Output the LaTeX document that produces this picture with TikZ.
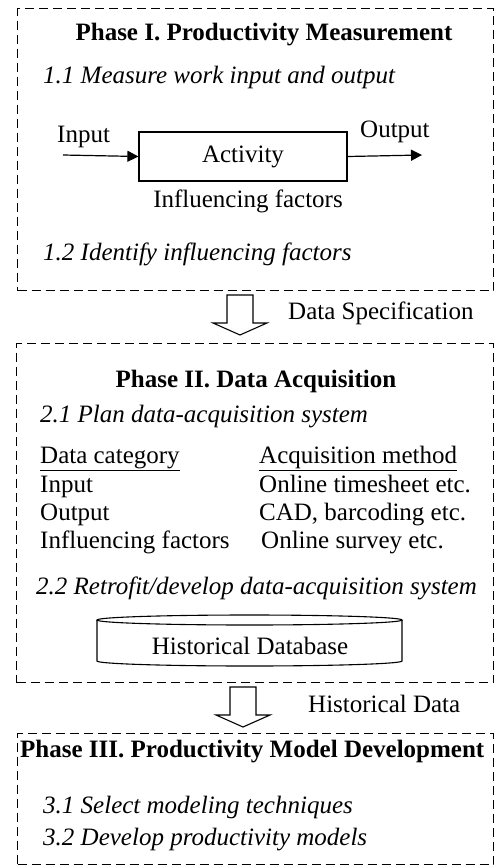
\documentclass[tikz,border=0pt]{standalone}
\usepackage{fontspec}
\setmainfont{Liberation Serif}
\usetikzlibrary{arrows.meta,positioning,calc}

\tikzset{
  phasebox/.style={draw, dash pattern=on 9pt off 5pt, line width=1.1pt, inner sep=0pt},
  txt/.style={font=\fontsize{25}{29}\selectfont, inner sep=0pt, anchor=base west},
  ttl/.style={font=\fontsize{25}{29}\selectfont\bfseries, inner sep=0pt, anchor=base},
  itm/.style={font=\fontsize{25}{29}\selectfont\itshape, inner sep=0pt, anchor=base west},
  flow/.style={line width=1.2pt, -{Triangle[length=11pt,width=11pt]}},
  hollow/.style={draw, line width=1.1pt, fill=white}
}

\begin{document}
\begin{tikzpicture}[x=1pt, y=-1pt]
\useasboundingbox (0,0) rectangle (494,865);

% phase I
\node[phasebox, minimum width=476pt, minimum height=282pt, anchor=north west] (ph1) at (17,8) {};
\node[ttl] (ttl1) at (264,40) {Phase I. Productivity Measurement};
\node[itm] (s11) at (43,83) {1.1 Measure work input and output};
\node[draw, line width=1.2pt, minimum width=208pt, minimum height=49pt, font=\fontsize{25}{29}\selectfont] (act) at (243,156.5) {Activity};
\node[txt] (inlbl) at (57,142) {Input};
\node[txt] (outlbl) at (360,137) {Output};
\coordinate (instart) at (63,155);
\coordinate (outend) at (422,155);
\draw[flow] (instart) -- (act.west);
\draw[flow] (act.east) -- (outend);
\node[txt, anchor=base] (inf) at (248,207) {Influencing factors};
\node[itm] (s12) at (43,260) {1.2 Identify influencing factors};

% phase II
\node[phasebox, minimum width=477pt, minimum height=339pt, anchor=north west] (ph2) at (16,343) {};
\node[ttl] (ttl2) at (256,387) {Phase II. Data Acquisition};
\node[itm] (s21) at (40,422) {2.1 Plan data-acquisition system};
\node[txt] (cat) at (40,463) {\underline{Data category}};
\node[txt] (meth) at (259,463) {\underline{Acquisition method}};
\node[txt] (cin) at (40,492) {Input};
\node[txt] (min) at (259,492) {Online timesheet etc.};
\node[txt] (cout) at (40,520) {Output};
\node[txt] (mout) at (259,520) {CAD, barcoding etc.};
\node[txt] (cinf) at (40,548) {Influencing factors};
\node[txt] (minf) at (261,548) {Online survey etc.};
\node[itm] (s22) at (36,594) {2.2 Retrofit/develop data-acquisition system};
% database
\coordinate (dbtop) at (249.5,620);
\draw[line width=1.1pt] (dbtop) ellipse [x radius=152.5, y radius=5];
\draw[line width=1.1pt] ($(dbtop)+(-152.5,0)$) -- ++(0,41)
  arc[start angle=180, end angle=0, x radius=152.5, y radius=5] -- ++(0,-41);
\node[txt, anchor=base] (db) at (250,654) {Historical Database};

% phase III
\node[phasebox, minimum width=476pt, minimum height=131pt, anchor=north west] (ph3) at (17,733) {};
\node[ttl, anchor=base west] (ttl3) at (20,757) {Phase III. Productivity Model Development};
\node[itm] (s31) at (43,813) {3.1 Select modeling techniques};
\node[itm] (s32) at (43,845) {3.2 Develop productivity models};

% hollow arrows between phases
\coordinate (arr1) at (240,295);
\coordinate (arr2) at (243,687);
\foreach \a in {arr1,arr2}
  \draw[hollow] ($(\a)+(-13,0)$) -- ++(0,28) -- ++(-14,0) -- ($(\a)+(0,40)$)
    -- ++(27,-12) -- ++(-14,0) -- ++(0,-28) -- cycle;
\node[txt] (spec) at (288,319) {Data Specification};
\node[txt] (hist) at (308,712) {Historical Data};
\end{tikzpicture}
\end{document}
